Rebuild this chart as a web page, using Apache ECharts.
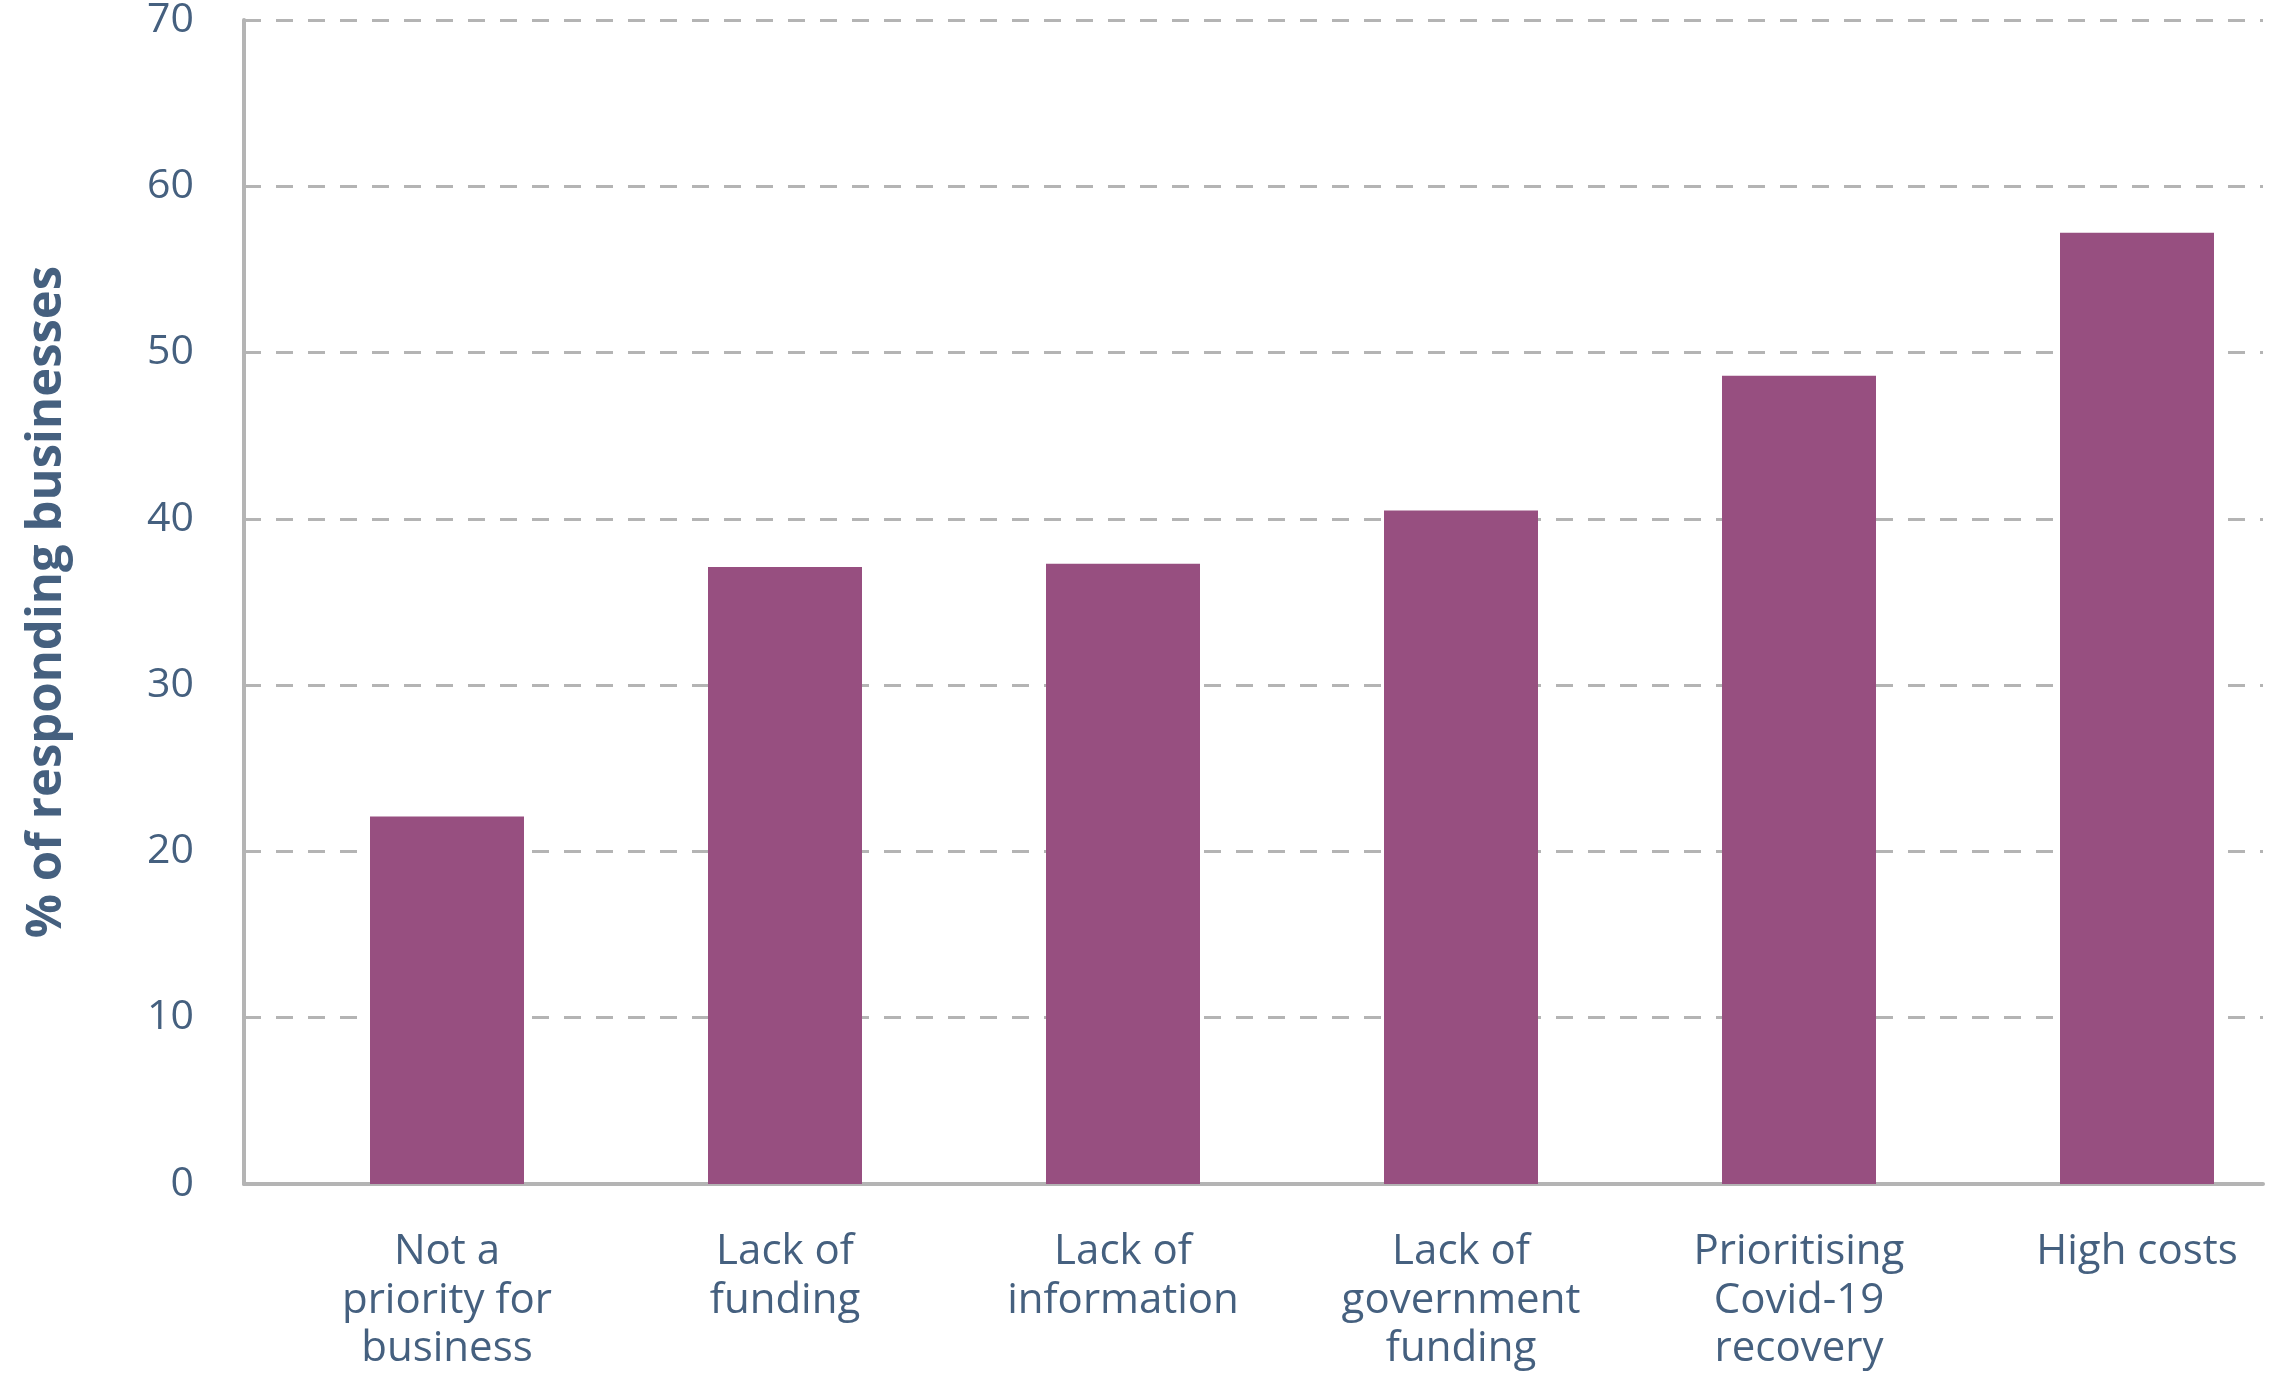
<!DOCTYPE html>
<html>
<head>
<meta charset="utf-8">
<script src="https://cdn.jsdelivr.net/npm/echarts@6/dist/echarts.min.js"></script>
<style>
html,body{margin:0;padding:0;background:#fff;}
#chart{width:2278px;height:1375px;}
</style>
</head>
<body>
<div id="chart"></div>
<script>
const categories = [
  'Not a\npriority for\nbusiness',
  'Lack of\nfunding',
  'Lack of\ninformation',
  'Lack of\ngovernment\nfunding',
  'Prioritising\nCovid-19\nrecovery',
  'High costs'
];
const values = [22.1, 37.1, 37.3, 40.5, 48.6, 57.2];
const yMin = 0;
const yMax = 70;
const yInterval = 10;
const yTitle = '% of responding businesses';

const textColor = '#45607f';
const lineColor = '#b4b4b4';
const barColor = '#974f80';
const font = '"Open Sans", "Noto Sans", sans-serif';

const chart = echarts.init(document.getElementById('chart'), null, {renderer: 'canvas'});
chart.setOption({
  backgroundColor: '#ffffff',
  animation: false,
  grid: [
    {left: 244, right: 15, top: 20, bottom: 191, containLabel: false, outerBoundsMode: 'none'},
    {left: 278, width: 2028, top: 20, bottom: 191, containLabel: false, outerBoundsMode: 'none'}
  ],
  xAxis: [
    {
      gridIndex: 0, type: 'category', data: categories,
      axisLine: {show: true, lineStyle: {color: lineColor, width: 4}},
      axisTick: {show: false}, axisLabel: {show: false}, splitLine: {show: false}
    },
    {
      gridIndex: 1, type: 'category', data: categories,
      axisLine: {show: false}, axisTick: {show: false}, splitLine: {show: false},
      axisLabel: {
        show: true, interval: 0, margin: 44,
        color: textColor, fontFamily: font, fontSize: 42, lineHeight: 48.5, align: 'center'
      }
    }
  ],
  yAxis: [
    {
      gridIndex: 0, type: 'value', min: yMin, max: yMax, interval: yInterval,
      name: yTitle, nameLocation: 'middle', nameGap: 172, nameRotate: 90,
      nameTextStyle: {color: textColor, fontFamily: font, fontSize: 49, fontWeight: 'bold'},
      axisLine: {show: true, lineStyle: {color: lineColor, width: 4}},
      axisTick: {show: false},
      axisLabel: {color: textColor, fontFamily: font, fontSize: 41, margin: 50},
      splitLine: {show: true, lineStyle: {color: lineColor, width: 3, type: [17, 15]}}
    },
    {
      gridIndex: 1, type: 'value', min: yMin, max: yMax, interval: yInterval, show: false,
      splitLine: {show: false}
    }
  ],
  series: [{
    type: 'bar', xAxisIndex: 1, yAxisIndex: 1,
    data: values, barWidth: 154,
    itemStyle: {color: barColor}
  }]
});
</script>
</body>
</html>
